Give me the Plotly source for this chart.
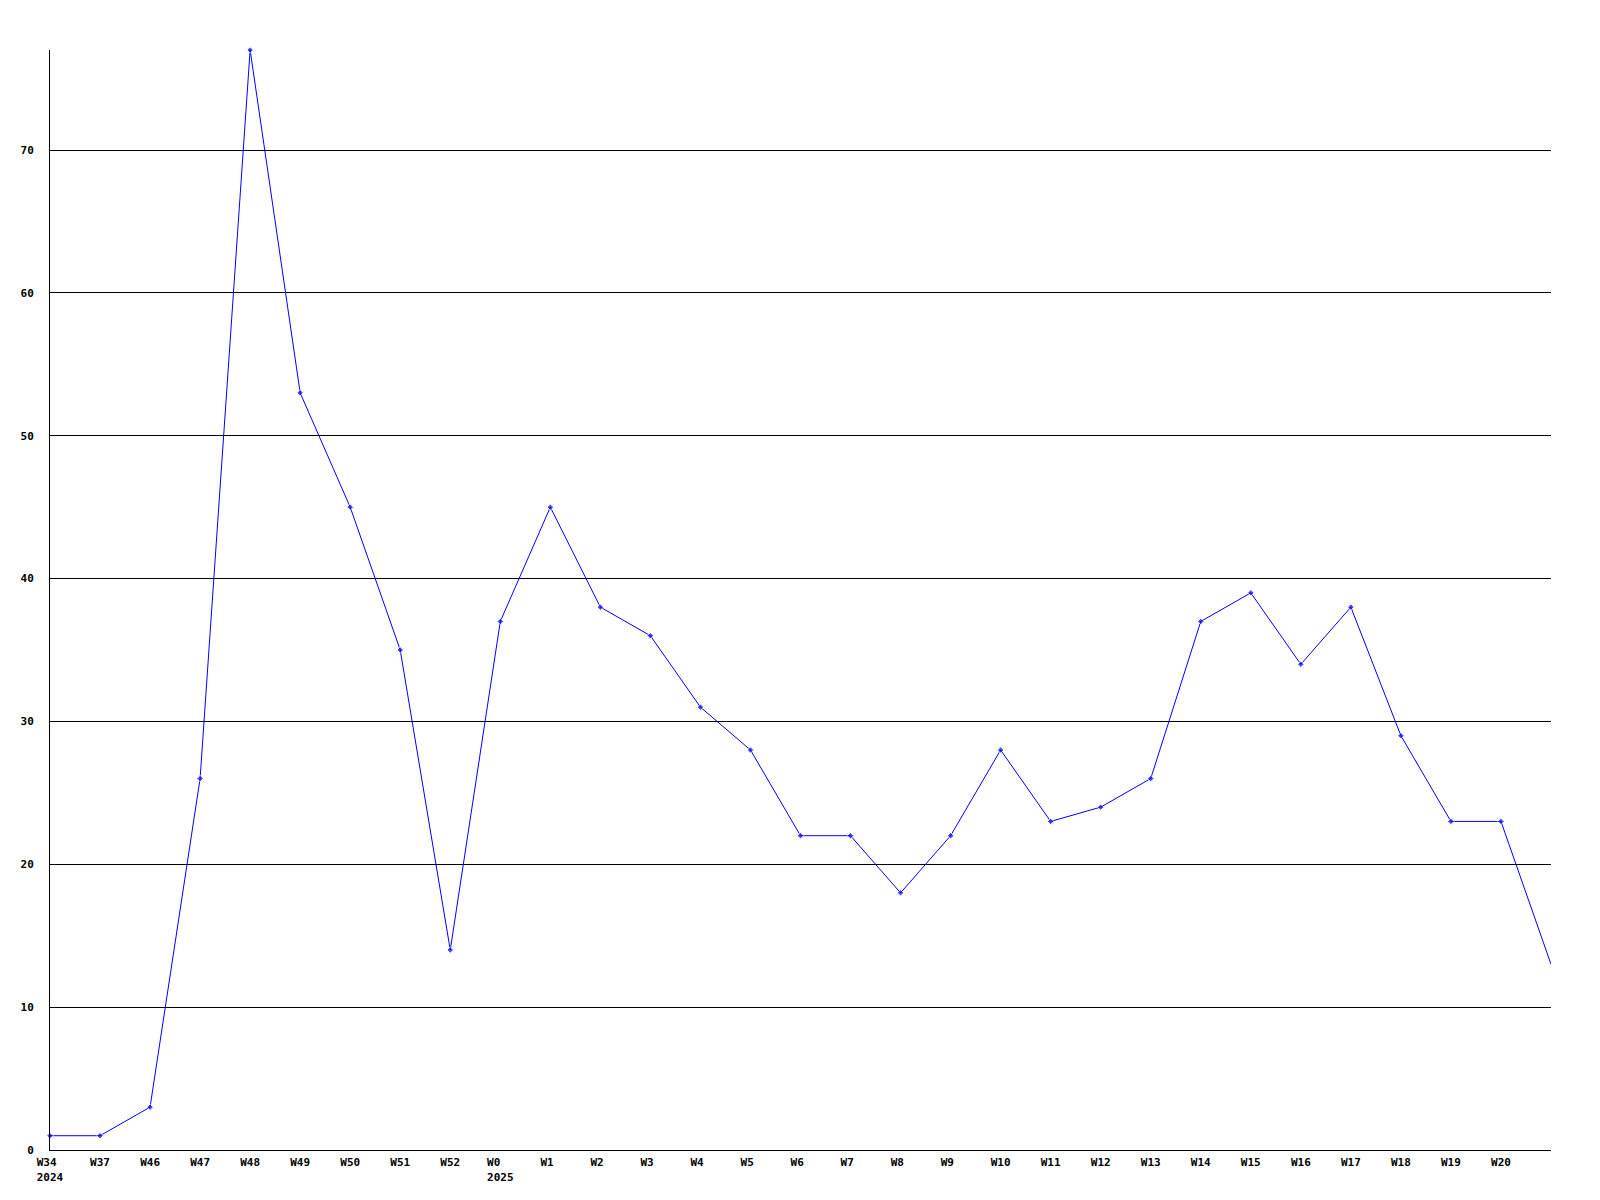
import plotly.graph_objects as go

weeks = ["W34", "W37", "W46", "W47", "W48", "W49", "W50", "W51", "W52", "W0",
         "W1", "W2", "W3", "W4", "W5", "W6", "W7", "W8", "W9", "W10",
         "W11", "W12", "W13", "W14", "W15", "W16", "W17", "W18", "W19", "W20", "W21"]
values = [1, 1, 3, 26, 77, 53, 45, 35, 14, 37,
          45, 38, 36, 31, 28, 22, 22, 18, 22, 28,
          23, 24, 26, 37, 39, 34, 38, 29, 23, 23, 13]
tick_weeks = weeks[:30]
tick_text = ["W34<br>2024", "W37", "W46", "W47", "W48", "W49", "W50", "W51", "W52", "W0<br>2025",
             "W1", "W2", "W3", "W4", "W5", "W6", "W7", "W8", "W9", "W10",
             "W11", "W12", "W13", "W14", "W15", "W16", "W17", "W18", "W19", "W20"]
y_ticks = [0, 10, 20, 30, 40, 50, 60, 70]


def left_align(label):
    # pad lines with non-breaking spaces so the centred label reads left-aligned
    lines = label.split("<br>")
    width = max(3, max(len(s) for s in lines))
    return "<br>".join(s + "\u00a0" * (width - len(s)) for s in lines)


marker_sizes = [5] * (len(values) - 1) + [0]

fig = go.Figure()
fig.add_trace(go.Scatter(
    x=weeks, y=values, mode="lines+markers",
    line=dict(color="#0000ff", width=1),
    marker=dict(symbol="diamond", size=marker_sizes, color="#0000ff"),
    cliponaxis=False, showlegend=False,
))

font = dict(family="DejaVu Sans Mono", size=11, color="black", weight="bold")

fig.update_layout(
    width=1592, height=1192,
    margin=dict(l=42, r=49, t=42, b=50),
    paper_bgcolor="white", plot_bgcolor="white",
    xaxis=dict(
        type="category", categoryorder="array", categoryarray=weeks,
        range=[0, 30], tickvals=tick_weeks, ticktext=[left_align(t) for t in tick_text],
        tickfont=font, showgrid=False, showline=True, linecolor="black", linewidth=1,
        ticks="", zeroline=False, automargin=False,
        ticklabelstandoff=2,
    ),
    yaxis=dict(
        range=[0, 77], tickvals=y_ticks, tickfont=font,
        showgrid=True, gridcolor="black", gridwidth=1,
        showline=True, linecolor="black", linewidth=1,
        ticks="", ticklabelstandoff=13, zeroline=False, automargin=False,
    ),
)

fig.write_html("out.html")
